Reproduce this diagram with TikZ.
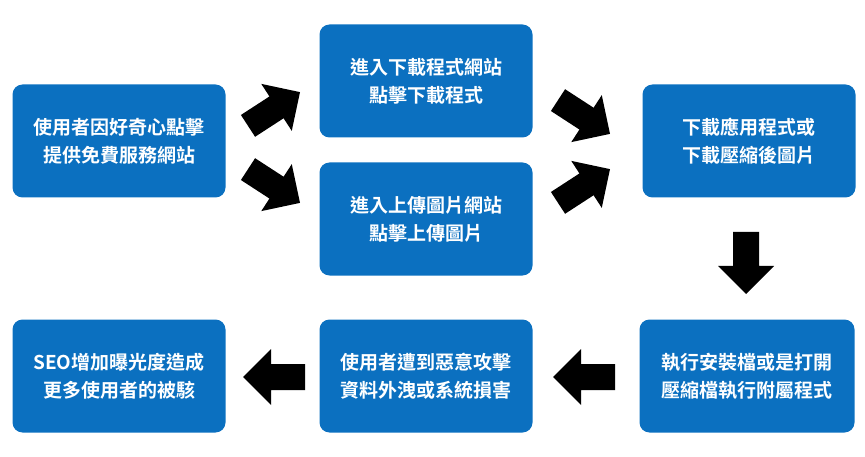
\documentclass[tikz,border=0pt]{standalone}
\usepackage{fontspec}
\setmainfont{Noto Sans CJK TC}[BoldFont={Noto Sans CJK TC Bold}]
\definecolor{boxblue}{RGB}{11,112,192}
\begin{document}
\begin{tikzpicture}[x=1pt,y=-1pt,
  box/.style={fill=boxblue,rounded corners=10pt,text=white,minimum width=213pt,minimum height=113pt,align=center,font=\fontsize{19}{28}\selectfont\bfseries,inner sep=0pt},
  barr/.pic={\fill[black] (-31,-13) -- (3,-13) -- (3,-28) -- (31,0) -- (3,28) -- (3,13) -- (-31,13) -- cycle;}]
\useasboundingbox (0,0) rectangle (865,457);
\node[box] (a) at (119,141) {使用者因好奇心點擊\\提供免費服務網站};
\node[box] (b) at (426,81) {進入下載程式網站\\點擊下載程式};
\node[box] (c) at (426,219) {進入上傳圖片網站\\點擊上傳圖片};
\node[box] (d) at (749,141) {下載應用程式或\\下載壓縮後圖片};
\node[box,minimum width=215pt] (e) at (747,376) {執行安裝檔或是打開\\壓縮檔執行附屬程式};
\node[box] (f) at (426,376) {使用者遭到惡意攻擊\\資料外洩或系統損害};
\node[box] (g) at (119,376) {SEO增加曝光度造成\\更多使用者的被駭};
\pic[rotate=33] at (274,109) {barr};
\pic[rotate=-33] at (274,186) {barr};
\pic[rotate=-33] at (584,117) {barr};
\pic[rotate=33] at (584,186) {barr};
\pic[rotate=-90] at (746,263) {barr};
\pic[rotate=180] at (584,377) {barr};
\pic[rotate=180] at (274,377) {barr};
\end{tikzpicture}
\end{document}
